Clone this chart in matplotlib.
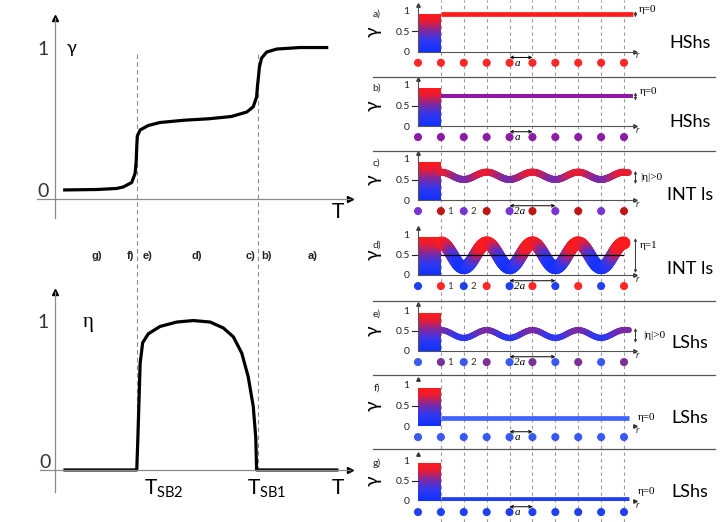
import numpy as np
import matplotlib
matplotlib.use('Agg')
import matplotlib.pyplot as plt
import matplotlib.transforms as mtransforms
from matplotlib.colors import LinearSegmentedColormap, Normalize
from matplotlib.collections import LineCollection
from matplotlib.lines import Line2D
from matplotlib.path import Path

plt.rcParams['font.family'] = ['Lato', 'DejaVu Sans']
plt.rcParams['mathtext.fontset'] = 'custom'
plt.rcParams['mathtext.rm'] = 'Lato'
plt.rcParams['mathtext.it'] = 'Lato:italic'

W, H = 722, 522
SERIF = ['Liberation Serif', 'DejaVu Serif']

# ---- left: order parameters against temperature ----
T_gamma = [0.29, 1.5, 2.2, 2.44, 2.74, 2.86, 2.9, 2.92, 2.94, 3.04, 3.33, 3.75, 4.6,
           5.5, 6.3, 6.85, 7.08, 7.2, 7.23, 7.27, 7.3, 7.38, 7.56, 7.92, 8.75, 9.76]
gamma_T = [0.06, 0.063, 0.07, 0.08, 0.11, 0.17, 0.25, 0.35, 0.42, 0.46, 0.49, 0.51, 0.525,
           0.535, 0.55, 0.58, 0.615, 0.68, 0.75, 0.82, 0.88, 0.94, 0.98, 1.0, 1.01, 1.01]
T_eta = [0.3, 2.92, 2.96, 3.0, 3.04, 3.13, 3.33, 3.75, 4.35, 4.94, 5.54, 6.01, 6.37,
         6.67, 6.9, 7.08, 7.17, 7.2, 10.12]
eta_T = [0.0, 0.0, 0.22, 0.47, 0.72, 0.86, 0.92, 0.97, 1.0, 1.01, 1.0, 0.96, 0.9,
         0.79, 0.63, 0.43, 0.22, 0.0, 0.0]
T_SB2, T_SB1 = 2.92, 7.25
phase_labels = ['g)', 'f)', 'e)', 'd)', 'c)', 'b)', 'a)']
phase_label_T = [1.5, 2.68, 3.32, 5.07, 7.0, 7.57, 9.21]

# ---- right: HS fraction along the chain for each phase ----
site_r = list(range(10))
line_r = list(range(1, 10))
panel_letters = ['a)', 'b)', 'c)', 'd)', 'e)', 'f)', 'g)']
phase_names = ['HShs', 'HShs', 'INT ls', 'INT ls', 'LShs', 'LShs', 'LShs']
eta_labels = ['η=0', 'η=0', '|η|>0', 'η=1', '|η|>0', 'η=0', 'η=0']
spacing = ['a', 'a', '2a', '2a', '2a', 'a', 'a']
gamma_a = [0.91] * 9
gamma_b = [0.72] * 9
gamma_c = [0.68, 0.50, 0.68, 0.50, 0.68, 0.50, 0.68, 0.50, 0.68]
gamma_d = [0.78, 0.18, 0.78, 0.18, 0.78, 0.18, 0.78, 0.18, 0.78]
gamma_e = [0.51, 0.32, 0.51, 0.32, 0.51, 0.32, 0.51, 0.32, 0.51]
gamma_f = [0.20] * 9
gamma_g = [0.05] * 9
gamma_profiles = [gamma_a, gamma_b, gamma_c, gamma_d, gamma_e, gamma_f, gamma_g]
bar_height = 0.92

RED, DRED, PURP, VIOL, BLUE, BLUE2, MAUV = ('#ff2626', '#c01616', '#8a1ca6', '#7a34d4',
                                            '#2040ee', '#3a58f2', '#7a3296')
dot_colors = [
    [RED] * 10,
    [PURP] * 10,
    [VIOL, DRED] * 5,
    [BLUE, RED] * 5,
    [BLUE2, MAUV] * 5,
    [BLUE2] * 10,
    [BLUE] * 10,
]
line_colors = ['#ff1c1c', '#8e1aa4', None, None, None, '#4062ff', '#2040f4']
line_widths = [3.4, 2.9, 5.0, 9.4, 4.3, 3.4, 3.4]
line_end = [9.4, 9.4, 9.17, 9.0, 9.2, 9.2, 9.2]

# layout (pixels of the 722x522 picture)
panel_zero_px = [51.7, 126, 200, 275, 351, 426, 501]
unit_px = 41
letter_y = [0.92, 0.93, 0.9, 0.73, 0.9, 0.93, 0.93]
eta_arrow = [(0.84, 0.99), (0.62, 0.82), (0.39, 0.71), (0.05, 0.9), (0.2, 0.56), None, None]
eta_text_pos = [(9.65, 1.03), (9.7, 0.83), (9.7, 0.56), (9.7, 0.73), (9.83, 0.37),
                (9.6, 0.2), (9.6, 0.22)]
name_y_px = [43, 122, 195, 269, 343, 418, 492]
separator_y_px = [77, 151, 301, 375, 449]
dot_level = -0.27

fig = plt.figure(figsize=(W / 100, H / 100), dpi=100)


def px_rect(x0, y0, x1, y1):
    return [x0 / W, 1 - y1 / H, (x1 - x0) / W, (y1 - y0) / H]


def arrow_ends(ax, ms=4, color='k'):
    ax.plot(1, 0, '>', color=color, ms=ms, transform=ax.get_yaxis_transform(), clip_on=False)
    ax.plot(0, 1, '^', color=color, ms=ms, transform=ax.get_xaxis_transform(), clip_on=False)


def left_axes(rect, xlim, ylim):
    ax = fig.add_axes(rect)
    ax.set_xlim(xlim)
    ax.set_ylim(ylim)
    ax.patch.set_visible(False)
    for s in ('top', 'right'):
        ax.spines[s].set_visible(False)
    for s in ('left', 'bottom'):
        ax.spines[s].set_position(('data', 0))
        ax.spines[s].set_color('#8a8a8a')
        ax.spines[s].set_linewidth(0.9)
    ax.set_xticks([])
    ax.set_yticks([])
    arrow_ends(ax, ms=4)
    return ax


# gamma(T)
ax1 = left_axes(px_rect(37, 18, 350, 218), (-0.643, 10.536), (-0.127, 1.207))
ax1.plot(T_gamma, gamma_T, color='k', lw=2.3, solid_joinstyle='round', solid_capstyle='butt')
ax1.text(-0.43, 1.0, '1', fontsize=14, color='#333333', ha='center', va='center')
ax1.text(-0.43, 0.05, '0', fontsize=14, color='#333333', ha='center', va='center')
ax1.text(0.6, 1.01, 'γ', fontsize=13, ha='center', va='center')
ax1.text(10.1, -0.09, 'T', fontsize=15, ha='center', va='center')

# eta(T)
ax2 = left_axes(px_rect(40, 292, 350, 492), (-0.536, 10.536), (-0.149, 1.203))
ax2.plot(T_eta, eta_T, color='k', lw=2.3, solid_joinstyle='round', solid_capstyle='butt')
ax2.text(-0.43, 1.0, '1', fontsize=14, color='#333333', ha='center', va='center')
ax2.text(-0.36, 0.05, '0', fontsize=14, color='#333333', ha='center', va='center')
ax2.text(1.18, 1.0, 'η', fontsize=15, family=SERIF, ha='center', va='center')
ax2.text(10.1, -0.12, 'T', fontsize=15, ha='center', va='center')
ax2.text(T_SB2 + 0.25, -0.13, r'T$_{\mathrm{SB2}}$', fontsize=15, ha='left', va='center')
ax2.text(T_SB1 - 0.4, -0.13, r'T$_{\mathrm{SB1}}$', fontsize=15, ha='left', va='center')

tr_left = mtransforms.blended_transform_factory(ax1.transData, fig.transFigure)
for T in (T_SB2, T_SB1):
    fig.add_artist(Line2D([T, T], [1 - 54 / H, 1 - 470 / H], transform=tr_left,
                          color='#8a8a8a', lw=0.8, ls=(0, (4, 3)), zorder=-1))
for lab, T in zip(phase_labels, phase_label_T):
    fig.text(T, 1 - 256 / H, lab, transform=tr_left, fontsize=8, fontweight='bold',
             family=['Liberation Sans', 'DejaVu Sans'], color='#222222',
             ha='center', va='center')

# right column
cmap = LinearSegmentedColormap.from_list(
    'spin', [(0, '#1030ff'), (0.3, '#3038f0'), (0.55, '#7a2aa8'), (0.8, '#e61c36'), (1, '#ff1a1a')])
norm = Normalize(0.15, 0.8)


def profile_points(r, g, end):
    # smooth chain profile through the site values, drawn as bezier segments
    verts = [(r[0], g[0])]
    codes = [Path.MOVETO]
    for k in range(len(r) - 1):
        dx = r[k + 1] - r[k]
        verts += [(r[k] + 0.36 * dx, g[k]), (r[k + 1] - 0.36 * dx, g[k + 1]), (r[k + 1], g[k + 1])]
        codes += [Path.CURVE4] * 3
    verts.append((end, g[-1]))
    codes.append(Path.LINETO)
    pts = [seg(np.linspace(0, 1, 30)) for seg, code in Path(verts, codes).iter_bezier()
           if code != Path.MOVETO]
    return np.vstack(pts)


axes_r = []
for i in range(7):
    y0 = panel_zero_px[i]
    ax = fig.add_axes(px_rect(418, y0 - 1.15 * unit_px, 635, y0))
    ax.patch.set_visible(False)
    ax.imshow(np.linspace(0, 1, 256)[:, None], extent=[0, 1, 0, bar_height], origin='lower',
              cmap=cmap, aspect='auto', zorder=2)
    ax.set_xlim(0, 9.48)
    ax.set_ylim(0, 1.15)
    for s in ('top', 'right'):
        ax.spines[s].set_visible(False)
    for s in ('left', 'bottom'):
        ax.spines[s].set_color('#555555')
        ax.spines[s].set_linewidth(0.8)
        ax.spines[s].set_visible(i < 5)
    ax.set_xticks([])
    ax.set_yticks([0, 0.5, 1], ['0', '0.5', '1'])
    ax.tick_params(axis='y', length=0, pad=6, labelsize=7.5, labelcolor='#222222')
    ax.plot([-0.25, 0], [0.5, 0.5], color='#222222', lw=0.8, clip_on=False)
    arrow_ends(ax, ms=2.5, color='#333333')
    ax.text(1.005, -0.1, 'r', transform=ax.get_yaxis_transform(), fontsize=7, style='italic',
            ha='left', va='center', color='#333333')

    if line_colors[i] is None:
        pts = profile_points(line_r, gamma_profiles[i], line_end[i])
        segs = np.stack([pts[:-1], pts[1:]], axis=1)
        cols = cmap(norm(segs[:, :, 1].mean(axis=1)))
        ax.add_collection(LineCollection(segs, colors=cols, linewidths=line_widths[i],
                                         capstyle='round', zorder=3))
    else:
        ax.plot(line_r + [line_end[i]], gamma_profiles[i] + [gamma_profiles[i][-1]],
                color=line_colors[i], lw=line_widths[i], solid_capstyle='butt', zorder=3)
    if i == 3:
        ax.plot([1, 8.95], [0.5, 0.5], color='k', lw=0.9, zorder=4)

    ax.scatter(site_r, [dot_level] * len(site_r), s=34, c=dot_colors[i], linewidths=0,
               clip_on=False, zorder=3)
    if spacing[i] == '2a':
        for r, lab in ((1, '1'), (2, '2')):
            ax.text(r + 0.28, dot_level, lab, fontsize=7, color='#333333', ha='left', va='center')
        span, tx = (4, 6), 4.45
    else:
        span, tx = (4, 5), 4.33
    ax.annotate('', xy=(span[1], -0.14), xytext=(span[0], -0.14),
                arrowprops=dict(arrowstyle='<->', color='k', lw=0.7, mutation_scale=5,
                                shrinkA=0, shrinkB=0), annotation_clip=False)
    ax.text(tx, -0.29, spacing[i], fontsize=8, family=SERIF, style='italic',
            ha='center', va='center')

    if eta_arrow[i] is not None:
        lo, hi = eta_arrow[i]
        ax.annotate('', xy=(9.5, hi), xytext=(9.5, lo),
                    arrowprops=dict(arrowstyle='<->', color='#333333', lw=0.7, mutation_scale=4,
                                    shrinkA=0, shrinkB=0), annotation_clip=False)
    ex, ey = eta_text_pos[i]
    ax.text(ex, ey, eta_labels[i], fontsize=8, family=SERIF, ha='left', va='center')

    ax.text(-1.8, letter_y[i], panel_letters[i], fontsize=7.5, color='#222222',
            ha='center', va='center')
    ax.text(-1.95, 0.5, 'γ', fontsize=14, rotation=90, ha='center', va='center')
    fig.text(690 / W, 1 - name_y_px[i] / H, phase_names[i], fontsize=13, ha='center', va='center')
    axes_r.append(ax)

tr_right = mtransforms.blended_transform_factory(axes_r[0].transData, fig.transFigure)
for r in site_r[1:]:
    fig.add_artist(Line2D([r, r], [0, 1], transform=tr_right, color='#9a9a9a', lw=0.8,
                          ls=(0, (3, 3)), zorder=-1))
for y in separator_y_px:
    fig.add_artist(Line2D([373 / W, 715 / W], [1 - y / H, 1 - y / H], color='#555555', lw=0.9))

fig.savefig('out.png', dpi=100)
